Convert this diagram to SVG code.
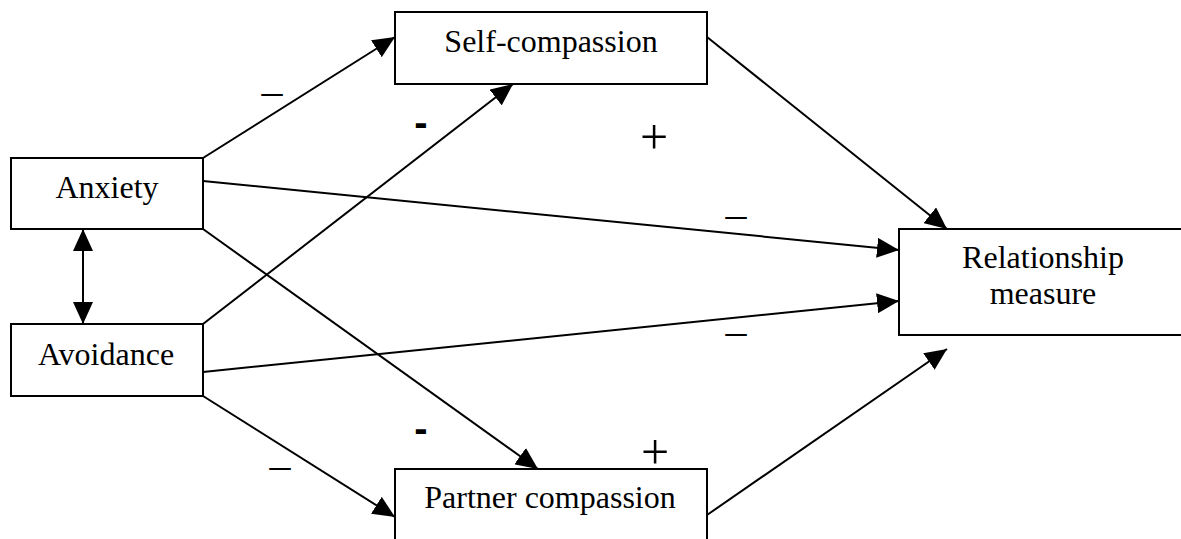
<svg xmlns="http://www.w3.org/2000/svg" width="1181" height="539" viewBox="0 0 1181 539">
  <style>
    .box { fill: #fff; stroke: #000; stroke-width: 2; }
    .lbl { font-family: "Liberation Serif", "Times New Roman", serif; font-size: 32px; fill: #000; text-anchor: middle; }
    .sign { font-family: "Liberation Serif", "Times New Roman", serif; font-size: 42px; fill: #000; text-anchor: middle; }
    .plus { font-family: "Liberation Serif", "Times New Roman", serif; font-size: 50px; fill: #000; text-anchor: middle; }
    .hy { font-family: "Liberation Sans", Arial, sans-serif; font-weight: bold; font-size: 40px; fill: #000; text-anchor: middle; }
    .edge { fill: none; stroke: #000; stroke-width: 2; }
  </style>
  <defs>
    <marker id="arrow" markerUnits="userSpaceOnUse" markerWidth="23" markerHeight="20" refX="22" refY="10" orient="auto-start-reverse">
      <path d="M0,0 L22,10 L0,20 z" fill="#000"/>
    </marker>
  </defs>
  <rect width="1181" height="539" fill="#fff"/>

  <!-- paths between constructs -->
  <g id="connectors">
    <line class="edge" x1="203" y1="158" x2="395" y2="37" marker-end="url(#arrow)"/>
    <line class="edge" x1="203" y1="324" x2="513" y2="84" marker-end="url(#arrow)"/>
    <line class="edge" x1="203" y1="181" x2="899" y2="250" marker-end="url(#arrow)"/>
    <line class="edge" x1="203" y1="372" x2="899" y2="301" marker-end="url(#arrow)"/>
    <line class="edge" x1="203" y1="229" x2="538" y2="469" marker-end="url(#arrow)"/>
    <line class="edge" x1="203" y1="396" x2="395" y2="517" marker-end="url(#arrow)"/>
    <line class="edge" x1="707" y1="37" x2="947" y2="229" marker-end="url(#arrow)"/>
    <line class="edge" x1="707" y1="515" x2="947" y2="349" marker-end="url(#arrow)"/>
    <line class="edge" x1="83" y1="229" x2="83" y2="324" marker-start="url(#arrow)" marker-end="url(#arrow)"/>
  </g>

  <!-- path signs -->
  <g id="signs">
    <text class="sign" x="272" y="105">–</text>
    <text class="hy" x="421" y="136">-</text>
    <text class="plus" x="654" y="154">+</text>
    <text class="sign" x="736" y="228">–</text>
    <text class="sign" x="736" y="345">–</text>
    <text class="hy" x="421" y="442">-</text>
    <text class="sign" x="280" y="479">–</text>
    <text class="plus" x="655" y="469">+</text>
  </g>

  <g id="anxiety">
    <rect class="box" x="11" y="158" width="192" height="71"/>
    <text class="lbl" x="107" y="198">Anxiety</text>
  </g>
  <g id="avoidance">
    <rect class="box" x="11" y="324" width="192" height="72"/>
    <text class="lbl" x="106" y="365">Avoidance</text>
  </g>
  <g id="self-compassion">
    <rect class="box" x="395" y="12" width="312" height="72"/>
    <text class="lbl" x="551" y="52">Self-compassion</text>
  </g>
  <g id="partner-compassion">
    <rect class="box" x="395" y="469" width="312" height="90"/>
    <text class="lbl" x="550" y="508">Partner compassion</text>
  </g>
  <g id="relationship-measure">
    <rect class="box" x="899" y="229" width="300" height="106"/>
    <text class="lbl" x="1043" y="268">Relationship</text>
    <text class="lbl" x="1043" y="304">measure</text>
  </g>
</svg>
